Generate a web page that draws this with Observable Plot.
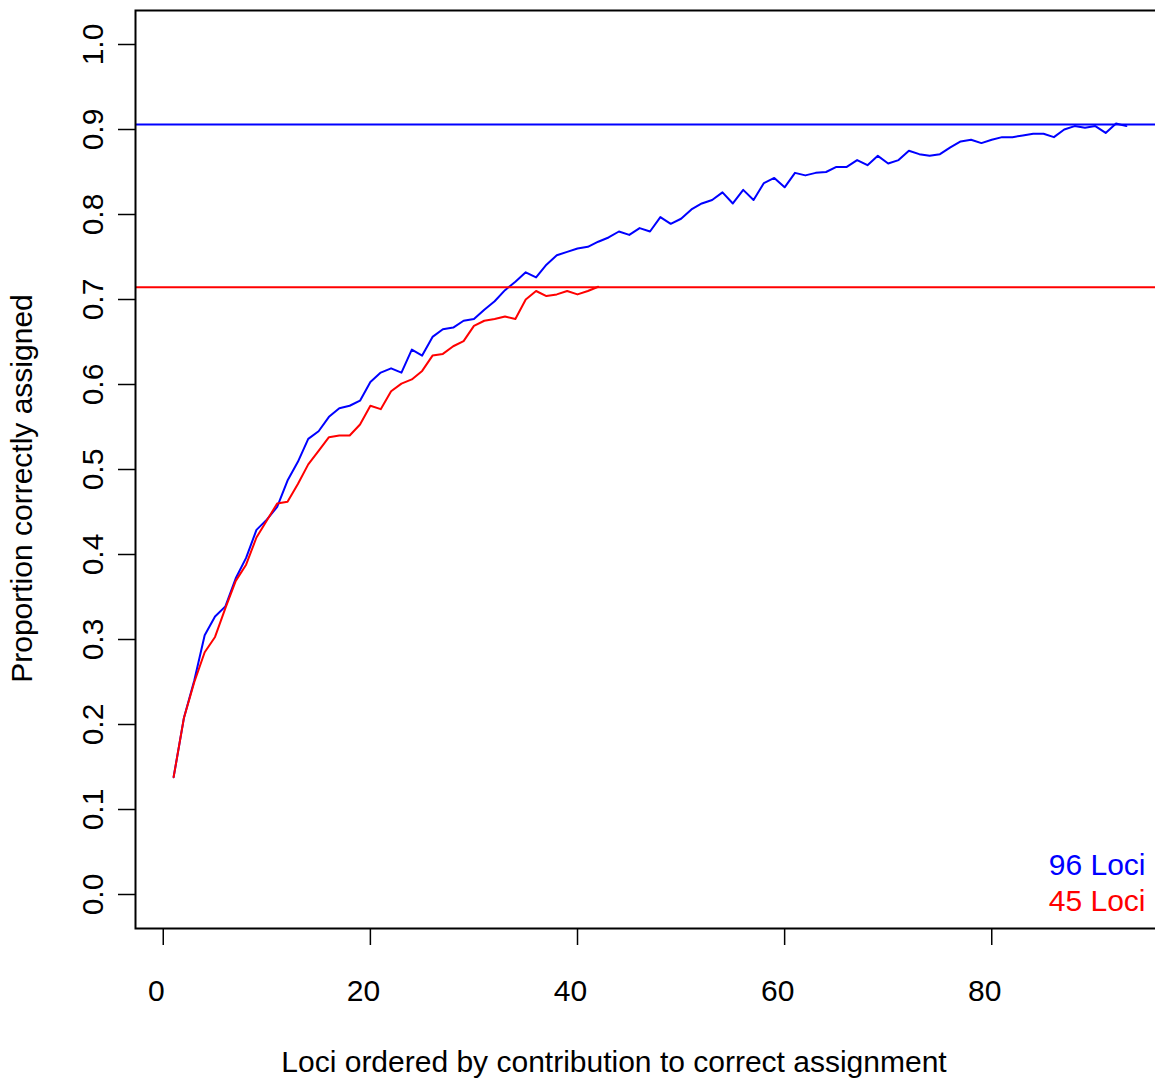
<!DOCTYPE html>
<html>
<head>
<meta charset="utf-8">
<script src="https://cdn.jsdelivr.net/npm/d3@7"></script>
<script src="https://cdn.jsdelivr.net/npm/@observablehq/plot@0.6"></script>
<style>
  html, body { margin: 0; padding: 0; background: #fff; overflow: hidden; }
  svg { display: block; }
</style>
</head>
<body>
<script>
// ---- data ----
const rank96 = [1,2,3,4,5,6,7,8,9,10,11,12,13,14,15,16,17,18,19,20,21,22,23,24,25,26,27,28,29,30,
  31,32,33,34,35,36,37,38,39,40,41,42,43,44,45,46,47,48,49,50,51,52,53,54,55,56,57,58,59,60,
  61,62,63,64,65,66,67,68,69,70,71,72,73,74,75,76,77,78,79,80,81,82,83,84,85,86,87,88,89,90,91,92,93];
const prop96 = [0.138,0.208,0.252,0.305,0.327,0.339,0.372,0.396,0.429,0.441,
  0.456,0.487,0.509,0.536,0.545,0.562,0.572,0.575,0.581,0.603,
  0.614,0.619,0.614,0.641,0.634,0.656,0.665,0.667,0.675,0.677,
  0.688,0.698,0.711,0.721,0.732,0.726,0.741,0.752,0.756,0.760,
  0.762,0.768,0.773,0.780,0.776,0.784,0.780,0.797,0.789,0.795,
  0.806,0.813,0.817,0.826,0.813,0.829,0.817,0.837,0.843,0.832,
  0.849,0.846,0.849,0.850,0.856,0.856,0.864,0.858,0.869,0.860,
  0.864,0.875,0.871,0.869,0.871,0.879,0.886,0.888,0.884,0.888,
  0.891,0.891,0.893,0.895,0.895,0.891,0.900,0.904,0.902,0.904,
  0.896,0.907,0.904];
const rank45 = [1,2,3,4,5,6,7,8,9,10,11,12,13,14,15,16,17,18,19,20,21,22,23,24,25,26,27,28,29,30,
  31,32,33,34,35,36,37,38,39,40,41,42];
const prop45 = [0.138,0.208,0.250,0.285,0.303,0.337,0.369,0.388,0.420,0.440,
  0.460,0.462,0.483,0.506,0.522,0.538,0.540,0.540,0.553,0.575,
  0.571,0.592,0.601,0.606,0.616,0.634,0.636,0.645,0.651,0.669,
  0.675,0.677,0.680,0.677,0.700,0.710,0.704,0.706,0.710,0.706,
  0.710,0.715];
const allLoci96 = 0.906;   // horizontal reference, 96 loci
const allLoci45 = 0.7145;  // horizontal reference, 45 loci
const legendLabels = ["96 Loci", "45 Loci"];
const xTicks = [0, 20, 40, 60, 80];
const yTicks = [0, 0.1, 0.2, 0.3, 0.4, 0.5, 0.6, 0.7, 0.8, 0.9, 1.0];
const yTickLabels = ["0.0","0.1","0.2","0.3","0.4","0.5","0.6","0.7","0.8","0.9","1.0"];
const xTitle = "Loci ordered by contribution to correct assignment";
const yTitle = "Proportion correctly assigned";

// ---- table built from arrays ----
const s96 = rank96.map((r, i) => ({rank: r, p: prop96[i]}));
const s45 = rank45.map((r, i) => ({rank: r, p: prop45[i]}));
const yTickData = yTicks.map((v, i) => ({v, label: yTickLabels[i]}));

const BLUE = "#0000FF", RED = "#FF0000";
const FONT = "Liberation Sans, Arial, Helvetica, sans-serif";
const FS = 30;

const chart = Plot.plot({
  width: 1155,
  height: 1081,
  marginLeft: 135,
  marginRight: -9,
  marginTop: 10,
  marginBottom: 153,
  style: {fontFamily: FONT, background: "#fff", overflow: "hidden"},
  x: {domain: [-2.68, 96.68], axis: null},
  y: {domain: [-0.04, 1.04], axis: null},
  marks: [
    Plot.line(s96, {x: "rank", y: "p", stroke: BLUE, strokeWidth: 2}),
    Plot.line(s45, {x: "rank", y: "p", stroke: RED, strokeWidth: 2}),
    Plot.ruleY([allLoci96], {stroke: BLUE, strokeWidth: 2}),
    Plot.ruleY([allLoci45], {stroke: RED, strokeWidth: 2}),
    Plot.frame({stroke: "#000", strokeWidth: 2}),
    // x ticks
    Plot.axisX({ticks: xTicks, tickSize: 17, tickFormat: () => "", stroke: "#000", strokeWidth: 1.5, label: null}),
    Plot.text(xTicks, {x: d => d, frameAnchor: "bottom", dy: 63, dx: -7, text: d => String(d),
      fontSize: FS, fill: "#000", lineAnchor: "middle", textAnchor: "middle"}),
    // y ticks
    Plot.axisY({ticks: yTicks, tickSize: 17, tickFormat: () => "", stroke: "#000", strokeWidth: 1.5, label: null}),
    Plot.text(yTickData, {y: "v", text: "label", frameAnchor: "left", dx: -42, rotate: -90,
      fontSize: FS, fill: "#000", lineAnchor: "middle", textAnchor: "middle"}),
    // axis titles
    Plot.text([xTitle], {frameAnchor: "bottom", dy: 134, dx: -36, text: d => d,
      fontSize: FS, fill: "#000", lineAnchor: "middle", textAnchor: "middle"}),
    Plot.text([yTitle], {frameAnchor: "left", dx: -113, dy: 19, rotate: -90, text: d => d,
      fontSize: FS, fill: "#000", lineAnchor: "middle", textAnchor: "middle"}),
    // legend
    Plot.text([legendLabels[0]], {frameAnchor: "bottom-right", dx: -19, dy: -63, text: d => d,
      fontSize: FS, textAnchor: "end", lineAnchor: "middle", fill: BLUE}),
    Plot.text([legendLabels[1]], {frameAnchor: "bottom-right", dx: -19, dy: -27, text: d => d,
      fontSize: FS, textAnchor: "end", lineAnchor: "middle", fill: RED})
  ]
});
document.body.appendChild(chart);
</script>
</body>
</html>
